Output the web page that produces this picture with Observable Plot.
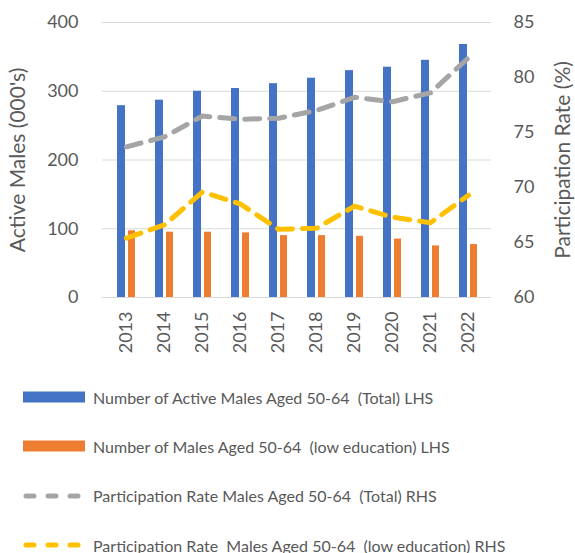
<!DOCTYPE html>
<html>
<head>
<meta charset="utf-8">
<script src="https://cdn.jsdelivr.net/npm/d3@7"></script>
<script src="https://cdn.jsdelivr.net/npm/@observablehq/plot@0.6"></script>
<style>
  html, body { margin: 0; padding: 0; background: #fff; overflow: hidden; }
  #wrap { position: relative; width: 575px; height: 553px; font-family: Lato, "Open Sans", sans-serif; color: #595959; }
  #legend { position: absolute; left: 0; top: 0; width: 575px; }
  .row { position: absolute; left: 23px; display: flex; align-items: center; font-size: 16px; white-space: pre; }
  .row svg { margin-right: 8px; }
</style>
</head>
<body>
<div id="wrap"><div id="chart"></div><div id="legend"></div></div>
<script>
const years = ["2013","2014","2015","2016","2017","2018","2019","2020","2021","2022"];
const activeTotal = [279, 287, 300, 304, 311, 319, 330, 335, 345, 368];
const activeLowEdu = [97, 95, 95, 94, 90, 90, 89, 85, 75, 77];
const rateTotal = [73.7, 74.6, 76.5, 76.2, 76.3, 77.0, 78.2, 77.8, 78.6, 81.8];
const rateLowEdu = [65.4, 66.6, 69.6, 68.5, 66.2, 66.3, 68.3, 67.3, 66.8, 69.3];
const leftTicks = [0, 100, 200, 300, 400];
const rightTicks = [60, 65, 70, 75, 80, 85];
const seriesNames = [
  "Number of Active Males Aged 50-64  (Total) LHS",
  "Number of Males Aged 50-64  (low education) LHS",
  "Participation Rate Males Aged 50-64  (Total) RHS",
  "Participation Rate  Males Aged 50-64  (low education) RHS"
];
const colors = ["#4472C4", "#ED7D31", "#A5A5A5", "#FFC000"];

// right axis (60–85) mapped onto left scale (0–400)
const rMin = 60, rMax = 85, lMax = 400;
const toLeft = v => (v - rMin) / (rMax - rMin) * lMax;
const toRight = v => rMin + v / lMax * (rMax - rMin);

const rows = years.map((y, i) => ({
  year: y, total: activeTotal[i], low: activeLowEdu[i],
  rTot: toLeft(rateTotal[i]), rLow: toLeft(rateLowEdu[i])
}));

const font = "Lato, 'Open Sans', sans-serif";
const chart = Plot.plot({
  width: 575,
  height: 360,
  marginLeft: 102,
  marginRight: 84,
  marginTop: 22,
  marginBottom: 63,
  style: { fontFamily: font, color: "#595959", background: "white", overflow: "visible" },
  x: { type: "band", domain: years, padding: 0, label: null },
  y: { domain: [0, lMax], label: null },
  marks: [
    Plot.ruleY(leftTicks, { stroke: "#d9d9d9", strokeWidth: 1 }),
    Plot.barY(rows, { x: "year", y: "total", fill: colors[0], insetLeft: 10, insetRight: 20 }),
    Plot.barY(rows, { x: "year", y: "low", fill: colors[1], insetLeft: 21, insetRight: 10 }),
    Plot.lineY(rows, { x: "year", y: "rTot", stroke: colors[2], strokeWidth: 5, strokeDasharray: "15 10", strokeLinecap: "round", strokeLinejoin: "round" }),
    Plot.lineY(rows, { x: "year", y: "rLow", stroke: colors[3], strokeWidth: 5, strokeDasharray: "15 10", strokeLinecap: "round", strokeLinejoin: "round" }),
    Plot.axisY(leftTicks, { anchor: "left", tickSize: 0, tickPadding: 24, fontSize: 18, label: "Active Males (000's)", labelAnchor: "center", labelArrow: "none", labelOffset: 92 }),
    Plot.axisY(rightTicks.map(toLeft), { anchor: "right", tickSize: 0, tickPadding: 22, fontSize: 18, tickFormat: d => String(Math.round(toRight(d))), label: "Participation Rate (%)", labelAnchor: "center", labelArrow: "none", labelOffset: 78 }),
    Plot.axisX({ tickSize: 0, tickPadding: 14, tickRotate: -90, fontSize: 18, label: null })
  ]
});
d3.select(chart).selectAll("g[aria-label='y-axis label'] text, g[aria-label='y-axis label']").attr("font-size", 21);
document.getElementById("chart").appendChild(chart);

const legend = document.getElementById("legend");
const tops = [397, 446, 495.5, 545];
seriesNames.forEach((name, i) => {
  const row = document.createElement("div");
  row.className = "row";
  row.style.top = (tops[i] - 10) + "px";
  row.style.height = "20px";
  let sw;
  if (i < 2) {
    sw = `<svg width="62" height="12"><rect x="0" y="0.5" width="62" height="11" fill="${colors[i]}"/></svg>`;
  } else {
    sw = `<svg width="62" height="12"><line x1="3" x2="60" y1="6" y2="6" stroke="${colors[i]}" stroke-width="5" stroke-linecap="round" stroke-dasharray="8 14"/></svg>`;
  }
  row.innerHTML = sw + `<span>${name}</span>`;
  legend.appendChild(row);
});
</script>
</body>
</html>
